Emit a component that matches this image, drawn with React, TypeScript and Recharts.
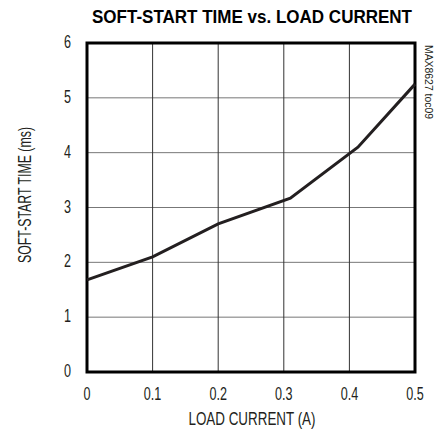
import React from "react";
import { LineChart, Line, XAxis, YAxis, CartesianGrid, ReferenceArea } from "recharts";

const loadCurrent = [0, 0.1, 0.2, 0.31, 0.413, 0.5];
const softStartTime = [1.68, 2.1, 2.7, 3.17, 4.1, 5.25];
const xTicks = [0, 0.1, 0.2, 0.3, 0.4, 0.5];
const yTicks = [0, 1, 2, 3, 4, 5, 6];

const data = loadCurrent.map((x, i) => ({ x, t: softStartTime[i] }));

const font = "'Liberation Sans', Arial, sans-serif";
const ink = "#231f20";

// narrow text: the reference uses a condensed face, so squeeze a regular one
const XTick = (props: any) => {
  const { x, payload } = props;
  return (
    <text
      transform={`translate(${x} 400) scale(0.7 1)`}
      textAnchor="middle"
      fontFamily={font}
      fontSize={18}
      fill={ink}
    >
      {String(payload.value)}
    </text>
  );
};

const YTick = (props: any) => {
  const { y, payload } = props;
  return (
    <text
      transform={`translate(71 ${y + 5}) scale(0.7 1)`}
      textAnchor="end"
      fontFamily={font}
      fontSize={18}
      fill={ink}
    >
      {String(payload.value)}
    </text>
  );
};

const App = () => {
  return (
    <div style={{ position: "absolute", left: 0, top: 0, width: 437, height: 431, background: "#fff" }}>
      <LineChart
        width={437}
        height={431}
        data={data}
        margin={{ top: 43, right: 22, left: 0, bottom: 0 }}
      >
        <CartesianGrid stroke="#777" strokeWidth={1} vertical={false} />
        <CartesianGrid stroke="#333" strokeWidth={1} horizontal={false} />
        <XAxis
          dataKey="x"
          type="number"
          domain={[0, 0.5]}
          ticks={xTicks}
          axisLine={false}
          tickLine={false}
          height={59}
          tick={<XTick />}
        />
        <YAxis
          type="number"
          domain={[0, 6]}
          ticks={yTicks}
          axisLine={false}
          tickLine={false}
          width={87}
          tick={<YTick />}
        />
        <ReferenceArea
          x1={0}
          x2={0.5}
          y1={0}
          y2={6}
          fill="none"
          stroke="#000"
          strokeWidth={3}
          ifOverflow="visible"
        />
        <Line
          dataKey="t"
          type="linear"
          stroke={ink}
          strokeWidth={3}
          dot={false}
          isAnimationActive={false}
        />
        <text
          x={252}
          y={23}
          textAnchor="middle"
          fontFamily={font}
          fontWeight="bold"
          fontSize={18}
          fill="#000"
          textLength={320}
          lengthAdjust="spacingAndGlyphs"
        >
          SOFT-START TIME vs. LOAD CURRENT
        </text>
        <text
          x={252}
          y={425}
          textAnchor="middle"
          fontFamily={font}
          fontSize={18}
          fill={ink}
          textLength={127}
          lengthAdjust="spacingAndGlyphs"
        >
          LOAD CURRENT (A)
        </text>
        <text
          x={31}
          y={195}
          transform="rotate(-90 31 195)"
          textAnchor="middle"
          fontFamily={font}
          fontSize={18}
          fill={ink}
          textLength={136}
          lengthAdjust="spacingAndGlyphs"
        >
          SOFT-START TIME (ms)
        </text>
        <text
          x={425}
          y={45}
          transform="rotate(90 425 45)"
          textAnchor="start"
          fontFamily={font}
          fontSize={10}
          fill={ink}
          textLength={74}
          lengthAdjust="spacingAndGlyphs"
        >
          MAX8627 toc09
        </text>
      </LineChart>
    </div>
  );
};

export default App;
